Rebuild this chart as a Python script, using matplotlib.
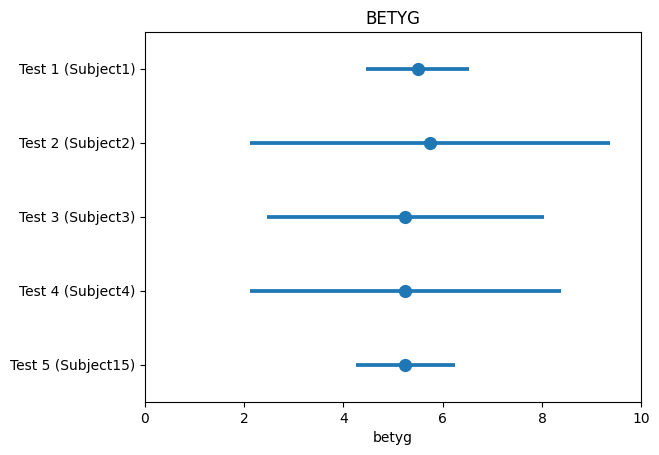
import matplotlib
matplotlib.use("Agg")
import matplotlib.pyplot as plt
import numpy as np

# values (mean and confidence interval per test)
tests = ["Test 1 (Subject1)", "Test 2 (Subject2)", "Test 3 (Subject3)",
         "Test 4 (Subject4)", "Test 5 (Subject15)"]
means = [5.5, 5.75, 5.25, 5.25, 5.25]
ci_low = [4.46, 2.12, 2.46, 2.12, 4.26]
ci_high = [6.53, 9.37, 8.04, 8.38, 6.24]

fig, ax = plt.subplots(figsize=(6.59, 4.55), dpi=100)
fig.subplots_adjust(left=0.22, right=0.973, top=0.93, bottom=0.1165)

color = "#1f77b4"
ypos = np.arange(len(tests))
for y, lo, hi in zip(ypos, ci_low, ci_high):
    ax.plot([lo, hi], [y, y], color=color, lw=2.7, solid_capstyle="butt")
ax.plot(means, ypos, "o", color=color, markersize=8.5, linestyle="none")

ax.set_yticks(ypos)
ax.set_yticklabels(tests)
ax.set_ylim(len(tests) - 0.5, -0.5)
ax.set_xlim(0, 10)
ax.set_xlabel("betyg")
ax.set_title("BETYG")

plt.savefig("out.png", dpi=100)
